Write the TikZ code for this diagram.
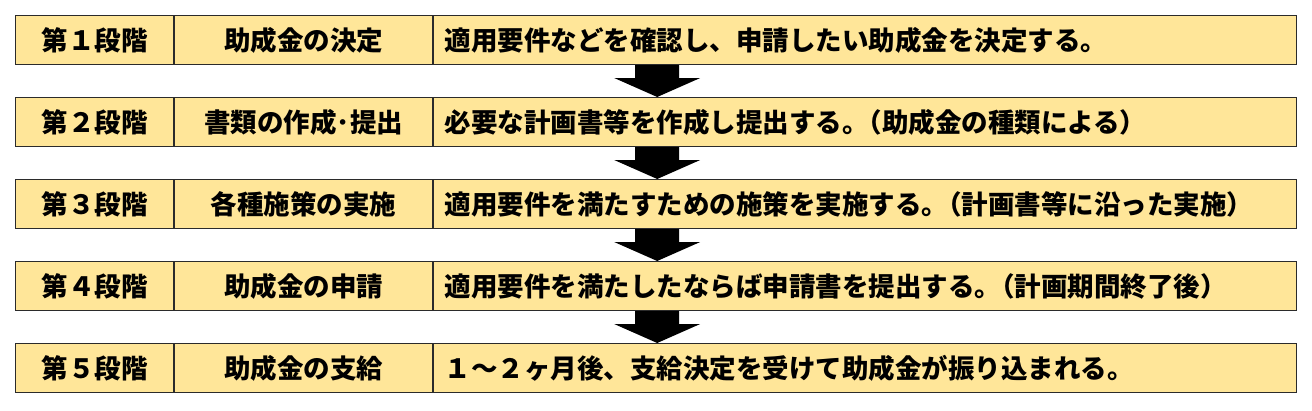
\documentclass[tikz,border=0pt]{standalone}
\usepackage{fontspec}
\setmainfont{Noto Sans CJK JP}
\usetikzlibrary{calc}
\definecolor{cellfill}{HTML}{FFE699}
\definecolor{cellline}{HTML}{2B2B2B}
\begin{document}
\begin{tikzpicture}[x=1pt,y=-1pt,
  cell/.style={draw=cellline, line width=1.1pt, fill=cellfill, minimum height=49pt,
    inner sep=0pt, anchor=north west, font=\fontsize{26.5}{30}\selectfont\bfseries},
  stagecell/.style={cell, minimum width=158pt},
  titlecell/.style={cell, minimum width=258pt},
  desccell/.style={cell, inner xsep=11pt, text width=841pt, align=left},
  flowarrow/.style={fill=black}]
\useasboundingbox (0,0) rectangle (1312,410);
\newcommand{\sq}{\kern-0.5em}
\foreach \i/\y/\a/\b/\c in {
  1/15/第１段階/助成金の決定/適用要件などを確認し、申請したい助成金を決定する。,
  2/97/第２段階/書類の作成･提出/必要な計画書等を作成し提出する。\sq（助成金の種類による）,
  3/179/第３段階/各種施策の実施/適用要件を満たすための施策を実施する。\sq（計画書等に沿った実施）,
  4/261/第４段階/助成金の申請/適用要件を満たしたならば申請書を提出する。\sq（計画期間終了後）,
  5/343/第５段階/助成金の支給/１～２ヶ月後、支給決定を受けて助成金が振り込まれる。}{
  \node[stagecell] (s\i) at (15,\y) {\a};
  \node[titlecell] (t\i) at (s\i.north east) {\b};
  \node[desccell] (d\i) at (t\i.north east) {\c};
}
\foreach \i/\j in {1/2,2/3,3/4,4/5}{
  \coordinate (a\i) at ($(d\i.south west)+(224,0)$);
  \coordinate (b\i) at ($(d\j.north west)+(224,0)$);
  \fill[flowarrow] ($(a\i)+(-22,0)$) -- ($(a\i)+(22,0)$) -- ($(b\i)+(22,-19)$)
    -- ($(b\i)+(43,-19)$) -- (b\i) -- ($(b\i)+(-43,-19)$) -- ($(b\i)+(-22,-19)$) -- cycle;
}
\end{tikzpicture}
\end{document}
